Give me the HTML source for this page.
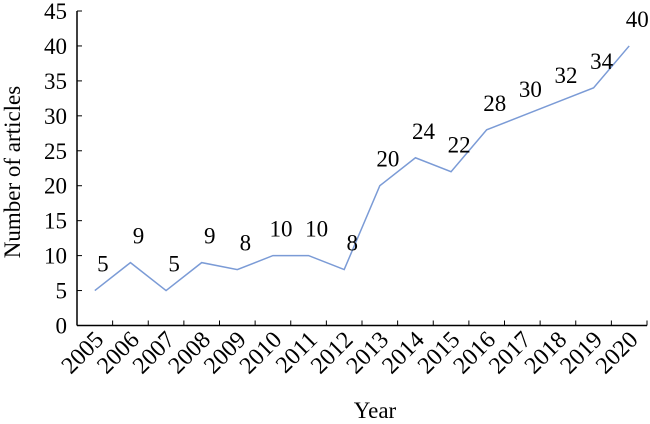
<!DOCTYPE html>
<html><head><meta charset="utf-8"><style>
body{margin:0;background:#fff}
svg text{font-family:"Liberation Serif",serif;fill:#000}
</style></head><body>
<svg id="chart" width="650" height="419" xmlns="http://www.w3.org/2000/svg">
<g id="g"></g>
</svg>
<script>
const categories=["2005","2006","2007","2008","2009","2010","2011","2012","2013","2014","2015","2016","2017","2018","2019","2020"];
const values=[5,9,5,9,8,10,10,8,20,24,22,28,30,32,34,40];
const yTicks=[0,5,10,15,20,25,30,35,40,45];
const L=77,R=647,T=11,B=325.5,ymax=45;
const step=(R-L)/categories.length;
const x=i=>L+step*(i+0.5);
const y=v=>B-(v/ymax)*(B-T);
const g=document.getElementById('g');
const NS="http://www.w3.org/2000/svg";
function mk(t,a,txt){const e=document.createElementNS(NS,t);for(const k in a)e.setAttribute(k,a[k]);if(txt!=null)e.textContent=txt;g.appendChild(e);return e;}
let e;
e=mk('line',{x1:L,y1:T,x2:L,y2:B,stroke:'#000','stroke-width':1.5});


e=mk('line',{x1:L,y1:B,x2:R,y2:B,stroke:'#000','stroke-width':1.5});


yTicks.forEach(t=>{
 e=mk('line',{x1:L,y1:y(t),x2:L+5,y2:y(t),stroke:'#000','stroke-width':1});
 
 
 e=mk('text',{x:L-10,y:y(t)+8,'text-anchor':'end','font-size':23},t);
 
 
});
for(let i=1;i<=categories.length;i++){
 const xx=L+step*i;
 e=mk('line',{x1:xx,y1:B,x2:xx,y2:B-5,stroke:'#000','stroke-width':1});
 
 
}
categories.forEach((c,i)=>{
 const tx=x(i)+10,ty=341;
 e=mk('text',{x:tx,y:ty,'text-anchor':'end','font-size':24,transform:`rotate(-45 ${tx} ${ty})`},c);
 
 
});
e=mk('polyline',{points:values.map((v,i)=>x(i)+','+y(v)).join(' '),fill:'none',stroke:'#7b9bd6','stroke-width':1.5});


values.forEach((v,i)=>{
 e=mk('text',{x:x(i)+8,y:y(v)-19,'text-anchor':'middle','font-size':23},v);
 
 
});
e=mk('text',{x:20,y:172,'text-anchor':'middle','font-size':23,transform:'rotate(-90 20 172)'},'Number of articles');


e=mk('text',{x:375,y:418,'text-anchor':'middle','font-size':23},'Year');


</script>
</body></html>
